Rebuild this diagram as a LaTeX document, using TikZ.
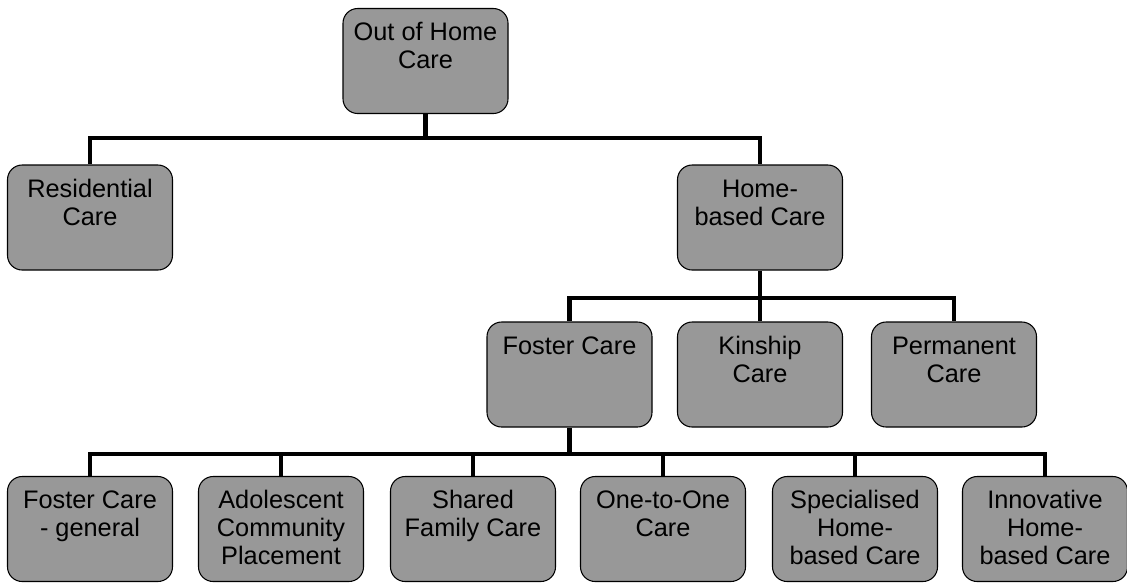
\documentclass[tikz,border=0pt]{standalone}
\usepackage{fontspec}
\setmainfont{Liberation Sans}
\definecolor{boxgray}{RGB}{152,152,152}
\newcommand{\bxt}[1]{\parbox[c][78.75pt][t]{123.75pt}{\centering\fontsize{19}{21}\selectfont\rule{0pt}{24pt}#1\par}}
\begin{document}
\begin{tikzpicture}[x=0.75pt,y=-0.75pt,
  cbox/.style={draw=black,line width=0.8pt,fill=boxgray,rounded corners=11pt,inner sep=0pt,minimum width=123.75pt,minimum height=78.75pt},
  conn/.style={line width=3.2pt,line join=miter}]
\useasboundingbox (0,0) rectangle (1127,583);
% nodes
\node[cbox] (ohc) at (425.5,61) {\bxt{Out of Home\\Care}};
\node[cbox] (res) at (90,217.5) {\bxt{Residential\\Care}};
\node[cbox] (hbc) at (760,217.5) {\bxt{Home-\\based Care}};
\node[cbox] (fos) at (569.5,374.5) {\bxt{Foster Care}};
\node[cbox] (kin) at (760,374.5) {\bxt{Kinship\\Care}};
\node[cbox] (per) at (954,374.5) {\bxt{Permanent\\Care}};
\node[cbox] (fcg) at (90,529) {\bxt{Foster Care\\- general}};
\node[cbox] (acp) at (281,529) {\bxt{Adolescent\\Community\\Placement}};
\node[cbox] (sfc) at (473,529) {\bxt{Shared\\Family Care}};
\node[cbox] (oto) at (663,529) {\bxt{One-to-One\\Care}};
\node[cbox] (shc) at (855,529) {\bxt{Specialised\\Home-\\based Care}};
\node[cbox] (ihc) at (1045,529) {\bxt{Innovative\\Home-\\based Care}};
% bus levels
\coordinate (b1) at (0,138);
\coordinate (b2) at (0,298);
\coordinate (b3) at (0,454);
% connectors
\draw[conn] (ohc.south) -- (ohc.south |- b1) -| (res.north);
\draw[conn] (ohc.south |- b1) -| (hbc.north);
\draw[conn] (hbc.south) -- (hbc.south |- b2) -| (fos.north);
\draw[conn] (hbc.south |- b2) -| (per.north);
\draw[conn] (hbc.south |- b2) -- (kin.north);
\draw[conn] (fos.south) -- (fos.south |- b3) -| (fcg.north);
\draw[conn] (fos.south |- b3) -| (ihc.north);
\draw[conn] (acp.north) -- (acp.north |- b3);
\draw[conn] (sfc.north) -- (sfc.north |- b3);
\draw[conn] (oto.north) -- (oto.north |- b3);
\draw[conn] (shc.north) -- (shc.north |- b3);
\end{tikzpicture}
\end{document}
